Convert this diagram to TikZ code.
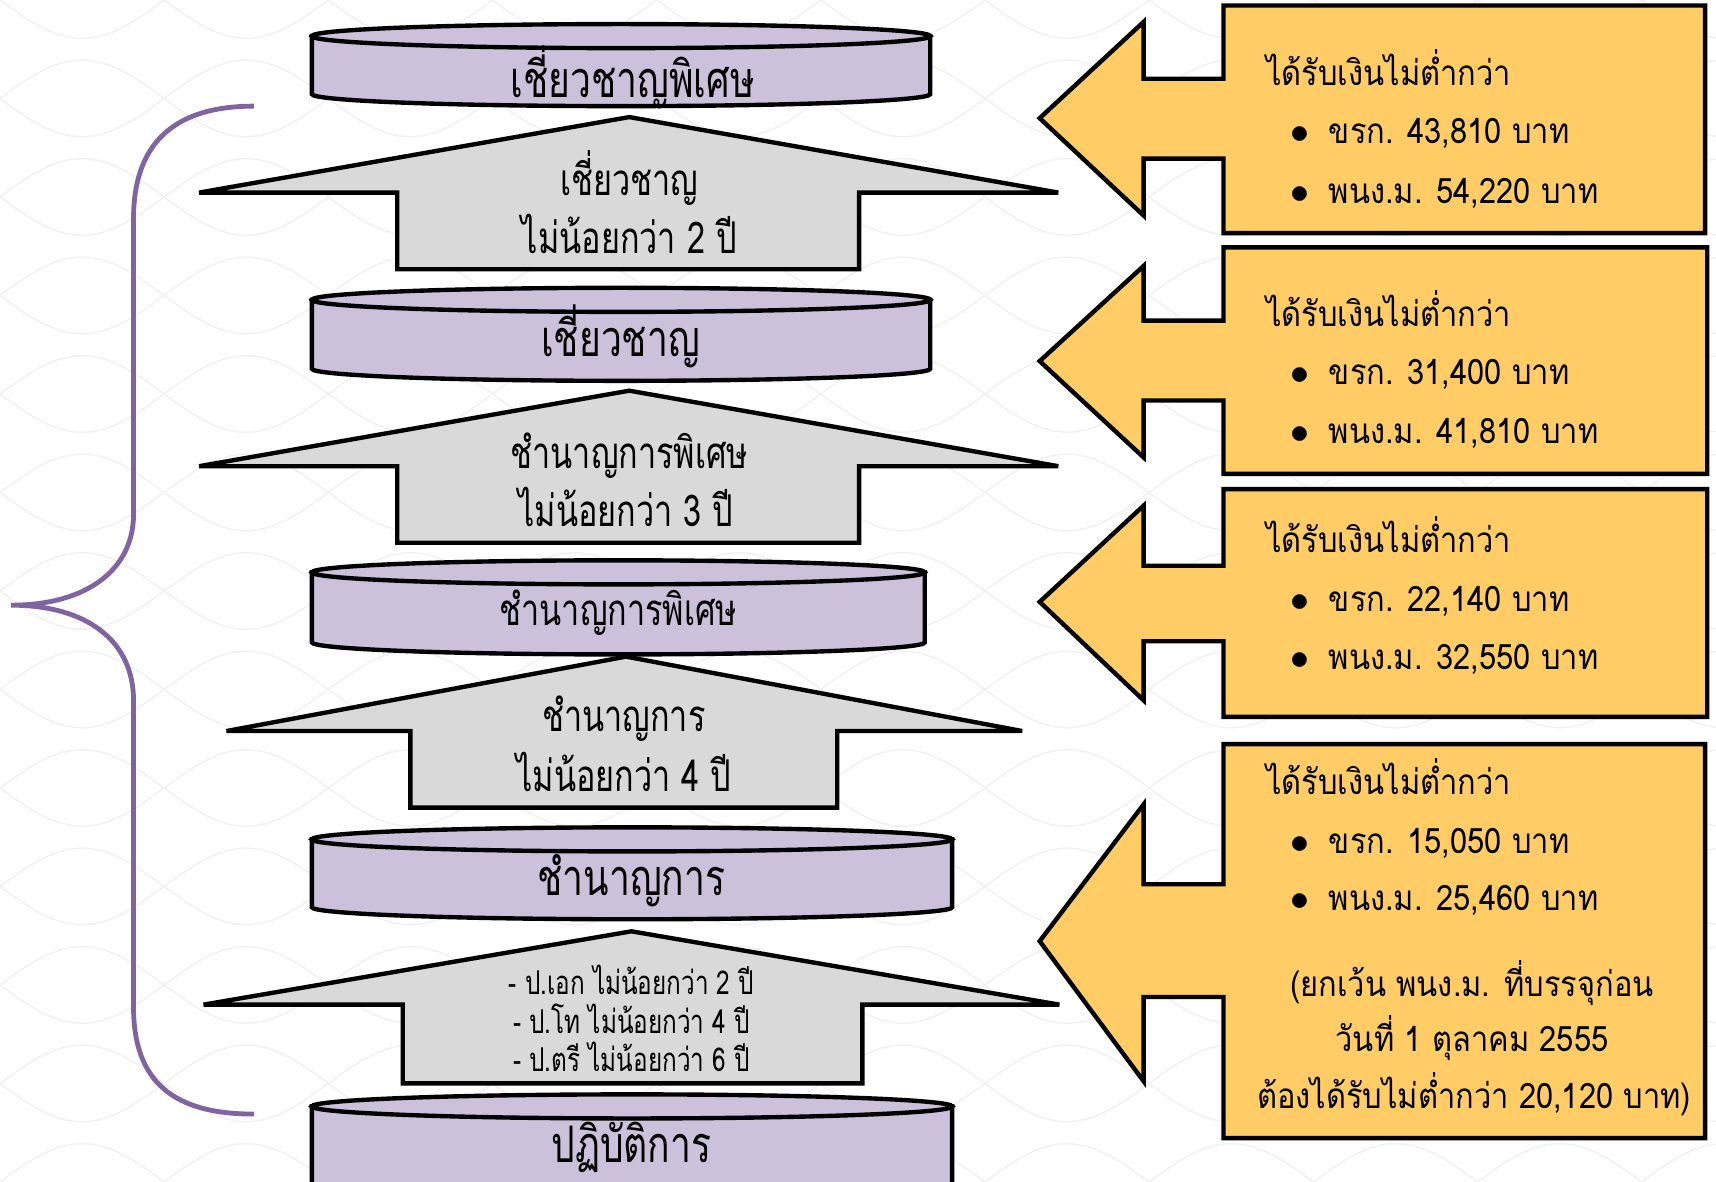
\documentclass[tikz,border=0pt]{standalone}
\usepackage{fontspec}
\newfontfamily\thaifont[Script=Thai,FakeStretch=0.88]{Loma}
\newfontfamily\thainarrow[Script=Thai,FakeStretch=0.74]{Loma}
\definecolor{lavender}{HTML}{CCC1DA}
\definecolor{arrowgray}{HTML}{D9D9D9}
\definecolor{callyellow}{HTML}{FFCC66}
\definecolor{bracepurple}{HTML}{8064A2}

\begin{document}
\begin{tikzpicture}[x=0.5pt,y=0.5pt,
    cylbody/.style={fill=lavender,draw=black,line width=2pt},
    uparrow/.style={fill=arrowgray,draw=black,line width=2pt,line join=miter},
    callout/.style={fill=callyellow,draw=black,line width=2pt,line join=miter},
    bgline/.style={draw=black!6,line width=0.6pt},
    level/.style={font=\thainarrow\fontsize{23}{26}\selectfont,anchor=base},
    req/.style={font=\thainarrow\fontsize{20}{24}\selectfont,anchor=base},
    degree/.style={font=\thainarrow\fontsize{15}{18}\selectfont,anchor=base},
    pay/.style={font=\thaifont\fontsize{16}{20}\selectfont,anchor=base west},
    note/.style={font=\thaifont\fontsize{16}{20}\selectfont,anchor=base}]

    \useasboundingbox (0,0) rectangle (1568,1080);
    \clip (0,0) rectangle (1568,1080);
    \fill[white] (0,0) rectangle (1568,1080);

    % background waves
    \foreach \k in {0,...,12}{
      \draw[bgline] plot[domain=0:1568,samples=120,smooth] (\x,{\k*90+35*sin(\x*1.2)});
      \draw[bgline] plot[domain=0:1568,samples=120,smooth] (\x,{\k*90-35*sin(\x*1.2)});
    }

    % brace
    \draw[bracepurple,line width=2.2pt] (232,983) .. controls (160,983) and (122,950) .. (122,880)
        -- (122,610) .. controls (122,560) and (80,527) .. (10,527)
        .. controls (80,527) and (122,494) .. (122,440)
        -- (122,160) .. controls (122,90) and (160,62) .. (232,62);

    % levels
    \draw[cylbody] (285,994) -- (285,1047) -- (850,1047) -- (850,994) arc[start angle=0,end angle=-180,x radius=282.5,y radius=11] -- cycle;
    \draw[cylbody] (567.5,1047) ellipse[x radius=282.5,y radius=11];
    \draw[cylbody] (285,743) -- (285,806) -- (850,806) -- (850,743) arc[start angle=0,end angle=-180,x radius=282.5,y radius=11] -- cycle;
    \draw[cylbody] (567.5,806) ellipse[x radius=282.5,y radius=11];
    \draw[cylbody] (285,493) -- (285,557) -- (845,557) -- (845,493) arc[start angle=0,end angle=-180,x radius=280,y radius=11] -- cycle;
    \draw[cylbody] (565,557) ellipse[x radius=280,y radius=11];
    \draw[cylbody] (285,251) -- (285,313) -- (870,313) -- (870,251) arc[start angle=0,end angle=-180,x radius=292.5,y radius=11] -- cycle;
    \draw[cylbody] (577.5,313) ellipse[x radius=292.5,y radius=11];
    \draw[cylbody] (285,-5) -- (285,69) -- (870,69) -- (870,-5) arc[start angle=0,end angle=-180,x radius=292.5,y radius=11] -- cycle;
    \draw[cylbody] (577.5,69) ellipse[x radius=292.5,y radius=11];

    \node[level] (lvl1) at (578,991) {เชี่ยวชาญพิเศษ};
    \node[level] (lvl2) at (567,754) {เชี่ยวชาญ};
    \node[level,font=\thainarrow\fontsize{20}{24}\selectfont] (lvl3) at (565,508) {ชำนาญการพิเศษ};
    \node[level] (lvl4) at (577,262) {ชำนาญการ};
    \node[level] (lvl5) at (577,18) {ปฏิบัติการ};

    % up arrows
    \draw[uparrow] (575,973) -- (967,904) -- (785,904) -- (785,834) -- (363,834) -- (363,904) -- (182,904) -- cycle;
    \draw[uparrow] (575,723) -- (967,654) -- (785,654) -- (785,584) -- (363,584) -- (363,654) -- (182,654) -- cycle;
    \draw[uparrow] (572,480) -- (934,412) -- (765,412) -- (765,342) -- (375,342) -- (375,412) -- (207,412) -- cycle;
    \draw[uparrow] (577,229) -- (968,162) -- (788,162) -- (788,90) -- (368,90) -- (368,162) -- (186,162) -- cycle;

    \node[req] (req1a) at (575,901) {เชี่ยวชาญ};
    \node[req] (req1b) at (575,848) {ไม่น้อยกว่า 2 ปี};
    \node[req] (req2a) at (575,652) {ชำนาญการพิเศษ};
    \node[req] (req2b) at (572,599) {ไม่น้อยกว่า 3 ปี};
    \node[req] (req3a) at (570,412) {ชำนาญการ};
    \node[req] (req3b) at (570,357) {ไม่น้อยกว่า 4 ปี};
    \node[degree] (req4a) at (577,171) {- ป.เอก ไม่น้อยกว่า 2 ปี};
    \node[degree] (req4b) at (577,136) {- ป.โท ไม่น้อยกว่า 4 ปี};
    \node[degree] (req4c) at (577,101) {- ป.ตรี ไม่น้อยกว่า 6 ปี};

    % pay callouts
    \draw[callout] (950,972) -- (1045,1060) -- (1045,1008) -- (1118,1008) -- (1118,1075) -- (1558,1075)
        -- (1558,867) -- (1118,867) -- (1118,935) -- (1045,935) -- (1045,883) -- cycle;
    \draw[callout] (950,750) -- (1045,837) -- (1045,787) -- (1118,787) -- (1118,854) -- (1560,854)
        -- (1560,647) -- (1118,647) -- (1118,714) -- (1045,714) -- (1045,662) -- cycle;
    \draw[callout] (950,530) -- (1045,618) -- (1045,563) -- (1118,563) -- (1118,633) -- (1560,633)
        -- (1560,425) -- (1118,425) -- (1118,494) -- (1045,494) -- (1045,440) -- cycle;
    \draw[callout] (950,220) -- (1045,345) -- (1045,272) -- (1118,272) -- (1118,400) -- (1558,400)
        -- (1558,40) -- (1118,40) -- (1118,169) -- (1045,169) -- (1045,92) -- cycle;

    \node[pay] (pay1h) at (1150,1002) {ได้รับเงินไม่ต่ำกว่า};
    \node[pay] (pay1a) at (1172,949) {$\bullet$\hspace{9pt}ขรก. 43,810 บาท};
    \node[pay] (pay1b) at (1172,894) {$\bullet$\hspace{9pt}พนง.ม. 54,220 บาท};
    \node[pay] (pay2h) at (1150,782) {ได้รับเงินไม่ต่ำกว่า};
    \node[pay] (pay2a) at (1172,729) {$\bullet$\hspace{9pt}ขรก. 31,400 บาท};
    \node[pay] (pay2b) at (1172,675) {$\bullet$\hspace{9pt}พนง.ม. 41,810 บาท};
    \node[pay] (pay3h) at (1150,575) {ได้รับเงินไม่ต่ำกว่า};
    \node[pay] (pay3a) at (1172,521) {$\bullet$\hspace{9pt}ขรก. 22,140 บาท};
    \node[pay] (pay3b) at (1172,468) {$\bullet$\hspace{9pt}พนง.ม. 32,550 บาท};
    \node[pay] (pay4h) at (1150,354) {ได้รับเงินไม่ต่ำกว่า};
    \node[pay] (pay4a) at (1172,300) {$\bullet$\hspace{9pt}ขรก. 15,050 บาท};
    \node[pay] (pay4b) at (1172,248) {$\bullet$\hspace{9pt}พนง.ม. 25,460 บาท};
    \node[note] (pay4c) at (1345,169) {(ยกเว้น พนง.ม. ที่บรรจุก่อน};
    \node[note] (pay4d) at (1345,119) {วันที่ 1 ตุลาคม 2555};
    \node[note] (pay4e) at (1347,67) {ต้องได้รับไม่ต่ำกว่า 20,120 บาท)};
\end{tikzpicture}
\end{document}
